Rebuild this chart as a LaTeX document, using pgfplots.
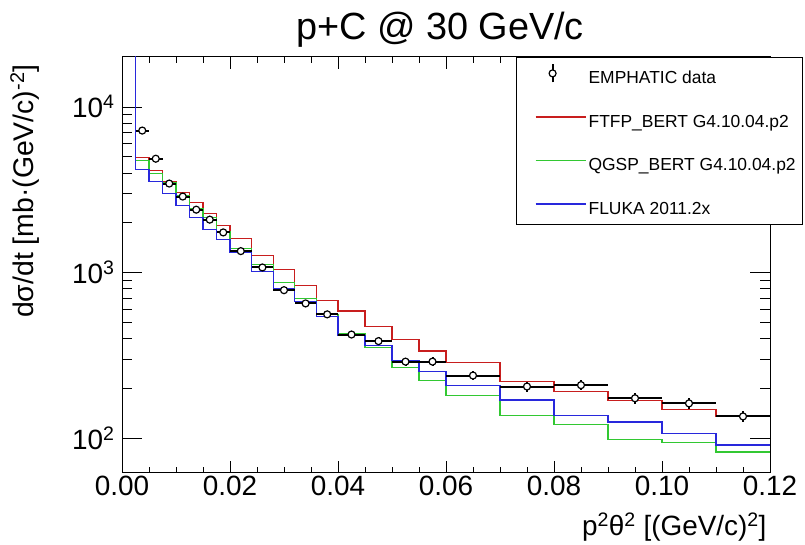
\documentclass[border=0pt]{standalone}
\usepackage{pgfplots}
\pgfplotsset{compat=1.18}
\usepackage{fontspec}
\setmainfont{Liberation Sans}
\definecolor{cRed}{RGB}{200,30,30}
\definecolor{cGreen}{RGB}{50,200,50}
\definecolor{cBlue}{RGB}{40,40,220}
\begin{document}
\begin{tikzpicture}
\useasboundingbox (0,0) rectangle (805bp,545bp);
\node[anchor=base,font=\fontsize{38}{40}\selectfont] at (440bp,505bp) {p+C @ 30 GeV/c};
\begin{axis}[
  at={(122bp,72bp)}, anchor=south west,
  scale only axis, width=648bp, height=416bp,
  ymode=log,
  xmin=0, xmax=0.12, ymin=62, ymax=20000,
  xtick={0,0.02,0.04,0.06,0.08,0.1,0.12},
  xticklabels={0.00,0.02,0.04,0.06,0.08,0.10,0.12},
  minor x tick num=3,
  ytick={100,1000,10000},
  yticklabels={10\textsuperscript{2},10\textsuperscript{3},10\textsuperscript{4}},
  yticklabel style={xshift=-4bp},
  tick align=inside,
  xtick style={/pgfplots/major tick length=12bp,/pgfplots/minor tick length=6bp,black,line width=0.7bp},
  ytick style={/pgfplots/major tick length=20bp,/pgfplots/minor tick length=10bp,black,line width=0.7bp},
  ticklabel style={font=\fontsize{28}{30}\selectfont},
  axis line style={black,line width=1bp},
  legend style={at={(1,1)},anchor=north east,xshift=33bp,draw=black,line width=0.8bp,fill=white,
    inner xsep=19bp,inner ysep=6bp,row sep=19bp,
    font=\fontsize{17.5}{19}\selectfont,
    nodes={inner sep=0pt,text height=13bp,text depth=4bp},
    /tikz/every even column/.append style={column sep=4bp}},
  legend cell align=left,
]
\addlegendimage{legend image code/.code={
  \path[draw=none,fill=none] (0bp,-4bp) rectangle (53bp,16bp);
  \draw[black,line width=2bp] (17bp,-3bp) -- (17bp,15bp);
  \draw[black,fill=white,line width=1.2bp] (17bp,6bp) circle (3.5bp);}}
\addlegendentry{\makebox[195bp][l]{EMPHATIC data}}

\addplot[const plot mark left, cRed, line width=1.2bp,
  legend image code/.code={\path[draw=none,fill=none] (0bp,-4bp) rectangle (53bp,16bp); \draw[cRed,line width=1.4bp] (0bp,6bp) -- (50bp,6bp);}]
 coordinates {(0,50000) (0.0025,4966) (0.005,4150) (0.0075,3566) (0.01,3033) (0.0125,2642) (0.015,2265) (0.0175,1936)
  (0.02,1603) (0.024,1271) (0.028,1047) (0.032,838) (0.036,681) (0.04,588) (0.045,473) (0.05,396) (0.055,337)
  (0.06,287) (0.07,220) (0.08,192) (0.09,169) (0.1,150) (0.11,136) (0.12,136)};
\addlegendentry{\makebox[195bp][l]{FTFP\_BERT G4.10.04.p2}}

\addplot[const plot mark left, cGreen, line width=1.2bp,
  legend image code/.code={\path[draw=none,fill=none] (0bp,-4bp) rectangle (53bp,16bp); \draw[cGreen,line width=1.4bp] (0bp,6bp) -- (50bp,6bp);}]
 coordinates {(0,50000) (0.0025,4753) (0.005,3963) (0.0075,3483) (0.01,2931) (0.0125,2432) (0.015,2144) (0.0175,1782)
  (0.02,1400) (0.024,1122) (0.028,871) (0.032,697) (0.036,561) (0.04,430) (0.045,353) (0.05,268) (0.055,225)
  (0.06,182) (0.07,137) (0.08,121) (0.09,99) (0.1,94.6) (0.11,83) (0.12,83)};
\addlegendentry{\makebox[195bp][l]{QGSP\_BERT G4.10.04.p2}}

\addplot[const plot mark left, cBlue, line width=1.2bp,
  legend image code/.code={\path[draw=none,fill=none] (0bp,-4bp) rectangle (53bp,16bp); \draw[cBlue,line width=1.4bp] (0bp,6bp) -- (50bp,6bp);}]
 coordinates {(0,50000) (0.0025,4190) (0.005,3533) (0.0075,3006) (0.01,2541) (0.0125,2144) (0.015,1824) (0.0175,1587)
  (0.02,1320) (0.024,1022) (0.028,801) (0.032,674) (0.036,543) (0.04,419) (0.045,365) (0.05,296) (0.055,255)
  (0.06,210) (0.07,171) (0.08,138) (0.09,126) (0.1,107) (0.11,91.4) (0.12,91.4)};
\addlegendentry{\makebox[195bp][l]{FLUKA 2011.2x}}

\addplot[forget plot, only marks, mark=*, mark size=3.5bp,
  mark options={draw=black,fill=white,line width=1.2bp},
  error bars/.cd, x dir=both, x explicit, y dir=both, y explicit,
  error mark=none, error bar style={black,line width=2bp}]
 coordinates {
  (0.00375,7200) +- (0.00125,200)
  (0.00625,4870) +- (0.00125,140)
  (0.00875,3450) +- (0.00125,100)
  (0.01125,2880) +- (0.00125,85)
  (0.01375,2400) +- (0.00125,70)
  (0.01625,2090) +- (0.00125,60)
  (0.01875,1750) +- (0.00125,55)
  (0.022,1350) +- (0.002,45)
  (0.026,1076) +- (0.002,38)
  (0.030,785) +- (0.002,30)
  (0.034,653) +- (0.002,27)
  (0.038,561) +- (0.002,25)
  (0.0425,424) +- (0.0025,20)
  (0.0475,387) +- (0.0025,20)
  (0.0525,291) +- (0.0025,17)
  (0.0575,291) +- (0.0025,18)
  (0.065,240) +- (0.005,15)
  (0.075,206) +- (0.005,14)
  (0.085,210) +- (0.005,14)
  (0.095,175) +- (0.005,13)
  (0.105,163) +- (0.005,12)
  (0.115,136) +- (0.005,11)
 };
\end{axis}
\node[anchor=base east,font=\fontsize{28}{30}\selectfont] at (770bp,10bp) {p\textsuperscript{2}θ\textsuperscript{2} [(GeV/c)\textsuperscript{2}]};
\node[anchor=base east,rotate=90,font=\fontsize{28.5}{30}\selectfont] at (33bp,484bp) {dσ/dt [mb·(GeV/c)\textsuperscript{-2}]};
\end{tikzpicture}
\end{document}
